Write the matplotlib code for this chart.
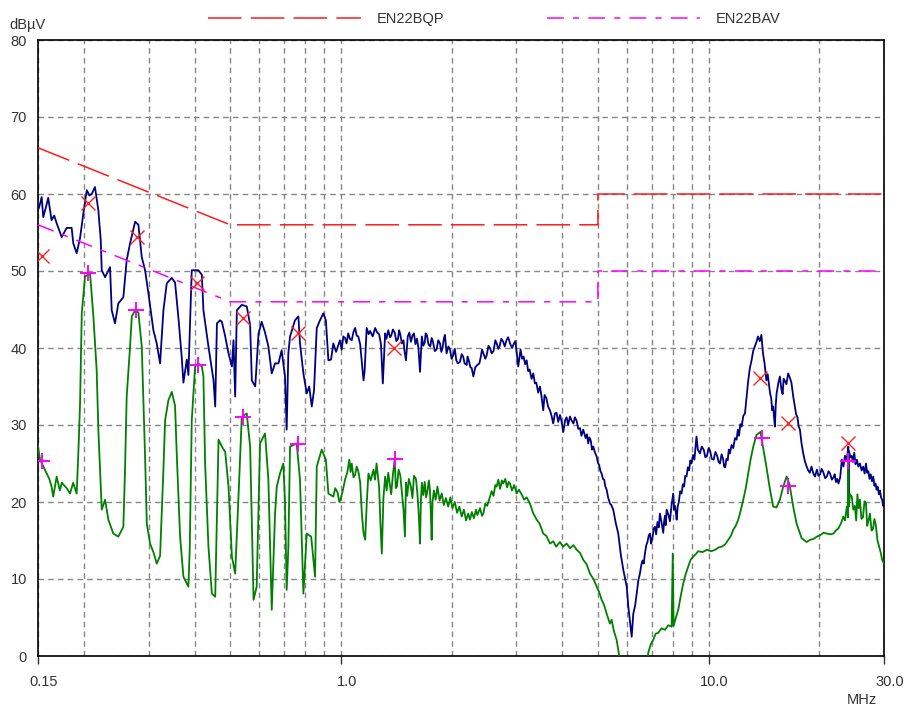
"""EMI conducted emission scan, EN55022 class B limits"""

import matplotlib
matplotlib.use("Agg")
import matplotlib.pyplot as plt
from matplotlib.ticker import FixedLocator, NullFormatter
from matplotlib.transforms import ScaledTranslation

plt.rcParams['font.family'] = ['Liberation Sans', 'DejaVu Sans']

# limit lines (MHz, dBuV)
qp_limit_freq = [0.15, 0.5, 5.0, 5.0, 30.0]
qp_limit_level = [66.0, 56.0, 56.0, 60.0, 60.0]
av_limit_freq = [0.15, 0.5, 5.0, 5.0, 30.0]
av_limit_level = [56.0, 46.0, 46.0, 50.0, 50.0]

# peak detector trace, (MHz, dBuV)
peak_trace = [
    (0.150, 57.9), (0.1515, 58.5), (0.1535, 59.6), (0.155, 57.0), (0.1575, 58.2),
    (0.1599, 59.5), (0.1633, 56.6), (0.166, 57.2), (0.1686, 56.2), (0.174, 54.4),
    (0.1795, 55.6), (0.1852, 55.6), (0.1871, 53.6), (0.1911, 52.3), (0.1952, 54.3),
    (0.1993, 57.5), (0.2036, 60.5), (0.207, 59.8), (0.210, 60.0), (0.2143, 60.9),
    (0.2189, 57.9), (0.2222, 54.0), (0.2236, 50.1), (0.2283, 49.2), (0.2355, 50.5),
    (0.238, 44.9), (0.243, 43.2), (0.2481, 45.8), (0.256, 46.6), (0.2614, 51.4),
    (0.267, 53.6), (0.2756, 56.4), (0.2813, 56.0), (0.2873, 51.8), (0.2933, 50.1),
    (0.2995, 47.1), (0.309, 42.3), (0.3155, 40.6), (0.3222, 38.0), (0.329, 44.9),
    (0.336, 48.4), (0.3467, 49.1), (0.3539, 48.5), (0.3613, 44.0), (0.369, 38.8),
    (0.3729, 35.5), (0.3809, 38.5), (0.3847, 36.5), (0.3929, 50.1), (0.4097, 50.1),
    (0.4185, 49.5), (0.4227, 44.9), (0.4362, 40.2), (0.4503, 35.8), (0.4551, 32.4),
    (0.460, 43.2), (0.4694, 43.6), (0.4745, 43.4), (0.4845, 41.5), (0.4946, 39.3),
    (0.5052, 37.6), (0.5103, 41.0), (0.5157, 33.7), (0.5211, 44.9), (0.5375, 45.6),
    (0.5545, 45.4), (0.5663, 43.0), (0.5724, 35.8), (0.5847, 35.0), (0.597, 41.9),
    (0.6089, 43.4), (0.6218, 42.0), (0.6349, 40.2), (0.6484, 36.7), (0.662, 38.0),
    (0.6762, 38.0), (0.6899, 39.7), (0.7045, 36.3), (0.712, 29.4), (0.7194, 39.3),
    (0.7271, 41.5), (0.750, 43.6), (0.766, 44.1), (0.7739, 40.6), (0.7905, 36.7),
    (0.8074, 34.1), (0.820, 35.0), (0.833, 32.4), (0.845, 34.5), (0.8596, 42.6),
    (0.8772, 43.6), (0.8959, 44.5), (0.910, 43.6), (0.9246, 38.4), (0.940, 38.5),
    (0.9536, 40.6), (0.970, 39.5), (0.9939, 41.0), (1.005, 39.8), (1.015, 41.5),
    (1.026, 41.3), (1.036, 40.6), (1.047, 41.9), (1.058, 41.2), (1.070, 41.0),
    (1.082, 42.1), (1.093, 42.6), (1.104, 41.6), (1.115, 41.5), (1.128, 40.5),
    (1.140, 38.2), (1.152, 35.8), (1.160, 37.0), (1.175, 42.6), (1.19, 41.8),
    (1.20, 42.2), (1.22, 41.5), (1.239, 42.6), (1.255, 42.0), (1.27, 41.8),
    (1.285, 40.5), (1.30, 35.4), (1.319, 41.9), (1.33, 41.2), (1.345, 42.3),
    (1.36, 41.4), (1.37, 41.6), (1.385, 42.4), (1.40, 42.0), (1.415, 40.9),
    (1.43, 41.2), (1.44, 42.3), (1.45, 41.8), (1.465, 40.6), (1.48, 41.0),
    (1.49, 39.5), (1.503, 38.4), (1.52, 41.5), (1.535, 42.0), (1.55, 40.8),
    (1.565, 41.6), (1.58, 41.9), (1.595, 40.5), (1.61, 41.2), (1.625, 40.0),
    (1.641, 36.9), (1.66, 41.5), (1.675, 40.3), (1.69, 40.7), (1.70, 41.9),
    (1.713, 41.7), (1.73, 40.5), (1.75, 40.2), (1.765, 41.3), (1.78, 40.8),
    (1.80, 39.6), (1.82, 39.8), (1.84, 41.0), (1.86, 40.6), (1.875, 39.5),
    (1.89, 40.0), (1.905, 41.2), (1.918, 41.7), (1.938, 39.3), (1.96, 40.2),
    (1.98, 39.8), (2.00, 38.6), (2.022, 39.1), (2.04, 39.9), (2.06, 38.4),
    (2.08, 38.0), (2.108, 38.2), (2.13, 39.2), (2.15, 38.9), (2.17, 38.0),
    (2.199, 37.8), (2.21, 38.9), (2.23, 38.3), (2.25, 37.5), (2.268, 37.4),
    (2.292, 36.3), (2.32, 37.5), (2.35, 37.8), (2.38, 38.0), (2.40, 38.8),
    (2.42, 39.8), (2.44, 39.3), (2.47, 38.6), (2.49, 39.0), (2.52, 40.3),
    (2.544, 40.0), (2.57, 39.3), (2.60, 39.6), (2.63, 41.0), (2.652, 40.6),
    (2.68, 39.9), (2.70, 40.2), (2.73, 41.2), (2.764, 40.8), (2.79, 40.2),
    (2.82, 41.0), (2.85, 41.4), (2.883, 40.6), (2.92, 40.0), (2.95, 40.5),
    (2.98, 40.9), (3.00, 39.8), (3.036, 37.6), (3.08, 39.8), (3.11, 38.6),
    (3.14, 38.9), (3.17, 37.9), (3.20, 38.4), (3.23, 37.0), (3.26, 37.2),
    (3.30, 36.0), (3.335, 36.7), (3.37, 35.4), (3.40, 35.5), (3.44, 34.2),
    (3.478, 35.0), (3.51, 33.8), (3.551, 31.9), (3.58, 33.9), (3.62, 33.5),
    (3.66, 32.4), (3.703, 31.9), (3.74, 31.2), (3.779, 30.2), (3.82, 31.5),
    (3.86, 31.6), (3.90, 30.4), (3.944, 31.3), (3.98, 30.5), (4.026, 29.1),
    (4.07, 30.6), (4.11, 31.0), (4.15, 30.0), (4.197, 31.1), (4.24, 30.6),
    (4.29, 30.2), (4.33, 31.0), (4.38, 30.5), (4.42, 29.5), (4.47, 29.6),
    (4.51, 28.6), (4.56, 29.4), (4.63, 28.3), (4.67, 28.8), (4.705, 27.6),
    (4.74, 28.4), (4.78, 28.0), (4.82, 26.8), (4.856, 27.2), (4.91, 26.4),
    (4.962, 25.9), (5.00, 25.1), (5.04, 24.8), (5.08, 24.0), (5.118, 23.7),
    (5.16, 23.0), (5.20, 22.9), (5.24, 22.0), (5.281, 21.6), (5.33, 20.6),
    (5.391, 19.8), (5.44, 19.6), (5.504, 19.0), (5.59, 17.3), (5.68, 15.9),
    (5.77, 13.2), (5.862, 11.2), (5.989, 9.0), (6.049, 6.4), (6.10, 4.8),
    (6.178, 2.5), (6.241, 5.5), (6.31, 6.5), (6.375, 8.1), (6.44, 9.8),
    (6.505, 10.7), (6.56, 11.8), (6.61, 12.4), (6.66, 12.0), (6.712, 13.3),
    (6.77, 14.4), (6.82, 14.8), (6.87, 15.6), (6.925, 15.9), (6.98, 14.6),
    (7.03, 15.2), (7.09, 16.5), (7.146, 16.8), (7.20, 15.8), (7.26, 17.4),
    (7.32, 16.7), (7.373, 18.5), (7.45, 17.3), (7.528, 16.0), (7.57, 17.5),
    (7.61, 18.2), (7.65, 17.0), (7.689, 19.0), (7.77, 18.4), (7.85, 17.5),
    (7.93, 19.6), (8.014, 21.1), (8.06, 19.0), (8.10, 19.5), (8.15, 18.6),
    (8.188, 17.7), (8.24, 19.4), (8.30, 20.0), (8.37, 21.4), (8.446, 21.1),
    (8.51, 22.3), (8.58, 22.0), (8.64, 23.4), (8.712, 23.3), (8.78, 24.5),
    (8.85, 24.1), (8.92, 25.4), (8.987, 25.0), (9.07, 26.1), (9.15, 25.5),
    (9.21, 27.0), (9.27, 28.5), (9.35, 26.8), (9.474, 26.3), (9.58, 27.2),
    (9.70, 26.8), (9.80, 25.8), (9.90, 26.0), (10.00, 27.0), (10.10, 26.6),
    (10.20, 25.6), (10.32, 25.5), (10.44, 26.5), (10.55, 26.0), (10.65, 25.2),
    (10.74, 25.0), (10.85, 26.2), (10.95, 25.6), (11.02, 24.6), (11.10, 24.5),
    (11.18, 25.6), (11.27, 25.4), (11.35, 26.8), (11.43, 26.3), (11.55, 27.4),
    (11.67, 27.0), (11.80, 28.3), (11.92, 28.1), (12.01, 29.4), (12.10, 28.6),
    (12.20, 30.1), (12.30, 29.8), (12.43, 31.2), (12.56, 31.5), (12.70, 33.8),
    (12.82, 35.8), (12.95, 37.4), (13.09, 38.4), (13.22, 39.6), (13.36, 40.2),
    (13.50, 40.8), (13.63, 41.5), (13.78, 40.9), (13.92, 41.7), (14.06, 39.3),
    (14.20, 38.0), (14.36, 35.8), (14.48, 36.6), (14.60, 35.2), (14.70, 34.1),
    (14.80, 33.5), (14.90, 31.9), (14.99, 32.4), (15.07, 31.0), (15.15, 29.8),
    (15.23, 32.6), (15.31, 34.1), (15.47, 35.4), (15.63, 36.3), (15.77, 34.7),
    (15.90, 34.0), (16.00, 36.0), (16.10, 35.8), (16.28, 35.3), (16.46, 36.7),
    (16.62, 36.2), (16.80, 35.5), (16.98, 33.8), (17.17, 32.4), (17.30, 31.4),
    (17.45, 31.0), (17.58, 29.8), (17.72, 29.4), (17.90, 27.6), (18.09, 26.3),
    (18.28, 25.3), (18.48, 24.6), (18.66, 24.1), (18.85, 23.8), (19.05, 24.6),
    (19.27, 23.7), (19.48, 23.3), (19.70, 24.2), (19.90, 23.4), (20.10, 23.6),
    (20.30, 24.3), (20.50, 23.9), (20.75, 23.1), (20.97, 23.3), (21.20, 24.0),
    (21.40, 23.7), (21.64, 22.9), (21.86, 23.2), (22.03, 23.6), (22.20, 22.6),
    (22.38, 23.0), (22.56, 22.4), (22.80, 23.2), (23.04, 25.5), (23.27, 24.6),
    (23.50, 26.0), (23.75, 25.4), (24.00, 27.2), (24.05, 20.7), (24.10, 26.6),
    (24.30, 25.8), (24.50, 26.0), (24.70, 25.2), (24.90, 26.4), (25.10, 24.9),
    (25.30, 25.5), (25.55, 24.6), (25.80, 25.0), (26.07, 24.1), (26.34, 24.6),
    (26.57, 23.7), (26.80, 25.0), (27.00, 23.8), (27.20, 24.0), (27.40, 23.0),
    (27.60, 23.6), (27.82, 22.7), (28.05, 23.3), (28.25, 22.1), (28.45, 22.4),
    (28.64, 21.6), (28.83, 22.0), (29.05, 21.0), (29.25, 21.5), (29.45, 20.6),
    (29.65, 20.3), (29.85, 19.5), (30.0, 19.8),
]

# average detector trace, (MHz, dBuV)
avg_trace = [
    (0.150, 27.2), (0.1519, 25.5), (0.1566, 24.2), (0.161, 23.0), (0.1633, 22.0),
    (0.165, 20.7), (0.1686, 23.3), (0.172, 21.5), (0.1741, 22.5), (0.1795, 21.8),
    (0.1833, 21.1), (0.187, 22.5), (0.1911, 21.1), (0.1931, 26.3), (0.1952, 32.8),
    (0.1973, 44.5), (0.2014, 49.3), (0.2078, 49.7), (0.2122, 44.1), (0.2166, 37.1),
    (0.2189, 29.4), (0.2212, 24.2), (0.2236, 19.0), (0.2283, 20.3), (0.2331, 17.7),
    (0.2404, 15.9), (0.2481, 15.5), (0.256, 16.8), (0.2587, 24.2), (0.2614, 33.7),
    (0.267, 40.2), (0.2699, 44.1), (0.2756, 44.9), (0.2813, 44.6), (0.2873, 40.2),
    (0.2933, 25.9), (0.2965, 17.2), (0.3026, 14.6), (0.309, 13.5), (0.3155, 12.0),
    (0.3222, 13.0), (0.329, 24.2), (0.3325, 30.6), (0.3394, 33.2), (0.3467, 34.3),
    (0.3539, 32.5), (0.3576, 26.3), (0.3652, 15.5), (0.3729, 10.3), (0.3847, 9.0),
    (0.388, 14.0), (0.3929, 30.6), (0.4012, 37.6), (0.4097, 38.0), (0.4185, 37.6),
    (0.4227, 36.3), (0.4272, 25.0), (0.4362, 14.2), (0.4456, 8.1), (0.4551, 7.7),
    (0.460, 18.5), (0.4647, 28.1), (0.4745, 27.2), (0.4845, 26.5), (0.4946, 22.0),
    (0.5052, 12.9), (0.5157, 10.7), (0.5265, 20.7), (0.5375, 31.1), (0.5545, 31.5),
    (0.5663, 27.2), (0.5786, 7.3), (0.590, 9.0), (0.6026, 27.6), (0.6218, 28.9),
    (0.6349, 22.9), (0.6484, 6.0), (0.662, 18.5), (0.6692, 22.0), (0.6827, 23.7),
    (0.6972, 25.0), (0.7045, 20.0), (0.712, 8.6), (0.7194, 14.0), (0.7271, 27.2),
    (0.758, 27.6), (0.7739, 22.9), (0.7905, 8.1), (0.8074, 15.9), (0.830, 15.5),
    (0.8505, 10.3), (0.8596, 24.6), (0.8866, 26.8), (0.910, 25.5), (0.9246, 21.1),
    (0.9536, 20.7), (0.965, 21.8), (0.980, 21.2), (0.990, 20.0), (1.000, 20.5),
    (1.013, 21.6), (1.026, 22.9), (1.040, 23.8), (1.054, 25.5), (1.062, 23.9),
    (1.070, 25.0), (1.082, 23.2), (1.093, 23.5), (1.104, 24.6), (1.115, 24.0),
    (1.128, 22.6), (1.140, 18.5), (1.152, 16.0), (1.164, 15.1), (1.176, 20.0),
    (1.188, 23.7), (1.205, 22.8), (1.226, 24.2), (1.238, 22.9), (1.250, 25.0),
    (1.260, 23.5), (1.270, 22.0), (1.280, 17.5), (1.292, 13.3), (1.305, 20.5),
    (1.319, 23.3), (1.332, 21.5), (1.345, 23.8), (1.357, 22.4), (1.370, 21.0),
    (1.385, 23.6), (1.401, 25.6), (1.410, 21.8), (1.420, 22.0), (1.435, 24.2),
    (1.450, 23.5), (1.465, 21.2), (1.480, 19.0), (1.493, 15.5), (1.503, 22.5),
    (1.515, 20.8), (1.530, 23.0), (1.550, 22.0), (1.565, 20.5), (1.580, 23.4),
    (1.600, 23.0), (1.615, 21.0), (1.630, 18.0), (1.641, 14.6), (1.650, 20.0),
    (1.660, 22.5), (1.675, 20.9), (1.690, 22.6), (1.705, 20.6), (1.720, 21.5),
    (1.735, 22.8), (1.746, 21.6), (1.755, 19.0), (1.765, 15.1), (1.775, 20.0),
    (1.790, 21.5), (1.810, 20.3), (1.830, 22.0), (1.855, 20.2), (1.880, 21.1),
    (1.905, 19.6), (1.930, 20.5), (1.958, 19.4), (1.985, 20.6), (2.010, 19.2),
    (2.040, 20.0), (2.070, 18.6), (2.100, 19.4), (2.131, 18.1), (2.160, 19.0),
    (2.190, 17.6), (2.220, 18.5), (2.244, 17.7), (2.270, 18.7), (2.300, 17.9),
    (2.330, 19.0), (2.350, 18.3), (2.390, 19.2), (2.420, 18.2), (2.440, 18.5),
    (2.470, 19.8), (2.500, 19.5), (2.544, 20.7), (2.570, 21.4), (2.600, 20.8),
    (2.630, 22.2), (2.652, 22.0), (2.680, 22.9), (2.710, 21.7), (2.740, 22.8),
    (2.764, 22.4), (2.800, 23.0), (2.830, 21.9), (2.860, 22.6), (2.883, 22.4),
    (2.920, 21.5), (2.960, 22.2), (3.006, 21.1), (3.050, 21.6), (3.100, 21.0),
    (3.150, 20.3), (3.200, 20.6), (3.267, 19.8), (3.330, 18.6), (3.407, 17.7),
    (3.470, 17.2), (3.551, 15.9), (3.620, 15.6), (3.703, 14.6), (3.780, 14.9),
    (3.850, 14.2), (3.940, 14.8), (4.026, 14.2), (4.110, 14.6), (4.200, 14.0),
    (4.290, 14.4), (4.376, 13.8), (4.470, 13.4), (4.560, 12.5), (4.660, 11.9),
    (4.757, 10.7), (4.860, 10.0), (4.962, 9.0), (5.040, 8.3), (5.118, 7.3),
    (5.200, 6.6), (5.281, 5.5), (5.391, 4.2), (5.449, 4.7), (5.530, 3.2),
    (5.622, 2.1), (5.716, 0.0), (5.800, -3.0), (6.800, -3.0), (6.852, 0.4),
    (6.960, 1.5), (7.069, 2.1), (7.180, 2.9), (7.295, 3.0), (7.450, 3.6),
    (7.608, 3.4), (7.770, 4.0), (7.934, 3.8), (7.990, 13.3), (8.030, 3.9),
    (8.150, 5.0), (8.271, 6.0), (8.400, 7.8), (8.531, 9.4), (8.660, 10.6),
    (8.800, 11.6), (8.940, 12.5), (9.077, 12.9), (9.220, 13.2), (9.363, 13.6),
    (9.630, 13.5), (9.900, 13.8), (10.16, 13.6), (10.43, 13.8), (10.65, 14.1),
    (10.86, 14.2), (11.10, 14.5), (11.32, 15.1), (11.50, 15.6), (11.67, 16.4),
    (11.85, 16.9), (12.04, 17.7), (12.23, 18.9), (12.43, 20.3), (12.62, 21.8),
    (12.82, 23.7), (13.02, 25.6), (13.23, 27.2), (13.50, 28.7), (13.84, 29.1),
    (14.06, 27.2), (14.36, 24.6), (14.69, 21.6), (14.99, 19.4), (15.30, 19.3),
    (15.63, 20.3), (15.96, 22.0), (16.30, 23.3), (16.60, 22.3), (16.99, 19.4),
    (17.35, 17.2), (17.91, 15.3), (18.48, 14.8), (18.90, 15.1), (19.30, 15.2),
    (19.70, 15.5), (20.10, 15.7), (20.55, 16.0), (21.00, 15.9), (21.43, 15.8),
    (21.86, 15.9), (22.20, 16.3), (22.56, 16.6), (22.90, 17.2), (23.27, 18.1),
    (23.50, 17.6), (23.77, 19.4), (23.95, 18.0), (24.00, 25.5), (24.05, 19.4),
    (24.25, 21.0), (24.51, 20.7), (24.75, 19.0), (25.00, 19.5), (25.20, 17.6),
    (25.40, 21.0), (25.60, 19.2), (25.80, 20.3), (26.05, 17.8), (26.30, 18.0),
    (26.55, 20.1), (26.80, 19.8), (27.00, 16.9), (27.20, 17.5), (27.47, 18.5),
    (27.75, 16.3), (28.00, 16.5), (28.25, 17.8), (28.50, 17.0), (28.80, 15.0),
    (29.10, 14.2), (29.40, 13.4), (29.65, 12.5), (30.00, 12.0),
]

# final measurement points
qp_freq = [0.154, 0.205, 0.278, 0.405, 0.541, 0.764, 1.39, 13.8, 16.4, 23.9]
qp_level = [52.0, 58.8, 54.4, 48.4, 43.9, 41.9, 40.0, 36.1, 30.3, 27.7]
av_freq = [0.154, 0.205, 0.277, 0.408, 0.541, 0.764, 1.40, 14.0, 16.4, 24.0]
av_level = [25.3, 49.7, 45.0, 37.8, 31.0, 27.5, 25.6, 28.3, 22.1, 25.3]

x_major = [0.15, 1.0, 10.0, 30.0]
x_major_labels = ['0.15', '1.0', '10.0', '30.0']
x_minor = [0.2, 0.3, 0.4, 0.5, 0.6, 0.7, 0.8, 0.9,
           2, 3, 4, 5, 6, 7, 8, 9, 20]
y_ticks = [0, 10, 20, 30, 40, 50, 60, 70, 80]

text_col = '#333333'
grid_col = '#858585'

peak_freq, peak_level = zip(*peak_trace)
avg_freq, avg_level = zip(*avg_trace)

fig = plt.figure(figsize=(9.09, 7.09), dpi=100)
ax = fig.add_axes([38 / 909, 53 / 709, 846 / 909, 616 / 709])

ax.plot(peak_freq, peak_level, color='#000080', lw=1.3, zorder=3)
ax.plot(avg_freq, avg_level, color='#008000', lw=1.3, zorder=3)

ax.plot(qp_limit_freq, qp_limit_level, color='#ff1a1a', lw=1.1,
        dashes=(22, 6), label='EN22BQP', zorder=4)
ax.plot(av_limit_freq, av_limit_level, color='#ff00ff', lw=1.1,
        dashes=(11, 6, 4, 6), label='EN22BAV', zorder=4)

ax.plot(qp_freq, qp_level, ls='none', marker='x', ms=10, mew=1.0,
        color='#ff2020', zorder=5)
ax.plot(av_freq, av_level, ls='none', marker='+', ms=11, mew=1.4,
        color='#ff00ff', zorder=5)

ax.set_xscale('log')
ax.set_xlim(0.15, 30.0)
ax.set_ylim(0, 80)

ax.xaxis.set_major_locator(FixedLocator(x_major))
ax.xaxis.set_minor_locator(FixedLocator(x_minor))
ax.xaxis.set_minor_formatter(NullFormatter())
ax.set_xticklabels(x_major_labels)
ax.set_yticks(y_ticks)

ax.tick_params(axis='x', which='major', direction='out', length=6,
               width=1.0, pad=8, labelsize=10.5, colors=text_col)
ax.tick_params(axis='x', which='minor', length=0)
ax.tick_params(axis='y', length=0, pad=8, labelsize=10.5, colors=text_col)

# tick labels sit a little right of their ticks in the original
shift = ScaledTranslation(6 / 100, 0, fig.dpi_scale_trans)
for lab in ax.get_xticklabels():
    lab.set_transform(lab.get_transform() + shift)

ax.grid(True, which='both', axis='x', color=grid_col, lw=1.0,
        dashes=(4, 3))
ax.grid(True, which='major', axis='y', color=grid_col, lw=1.0,
        dashes=(4, 3))
ax.set_axisbelow(True)

for sp in ax.spines.values():
    sp.set_linewidth(1.2)
    sp.set_color('black')

fig.text(9 / 909, 1 - 25 / 709, 'dBµV', ha='left', va='center',
         fontsize=10.5, color=text_col)
fig.text(877 / 909, 1 - 700 / 709, 'MHz', ha='right', va='center',
         fontsize=10.5, color=text_col)

fig.legend(loc='center left', bbox_to_anchor=(208 / 909, 1 - 19 / 709),
           ncol=2, frameon=False, fontsize=10.5, handlelength=10.5,
           handletextpad=1.1, columnspacing=7.0, borderpad=0,
           borderaxespad=0, labelcolor=text_col)

fig.savefig('out.png', dpi=100)
